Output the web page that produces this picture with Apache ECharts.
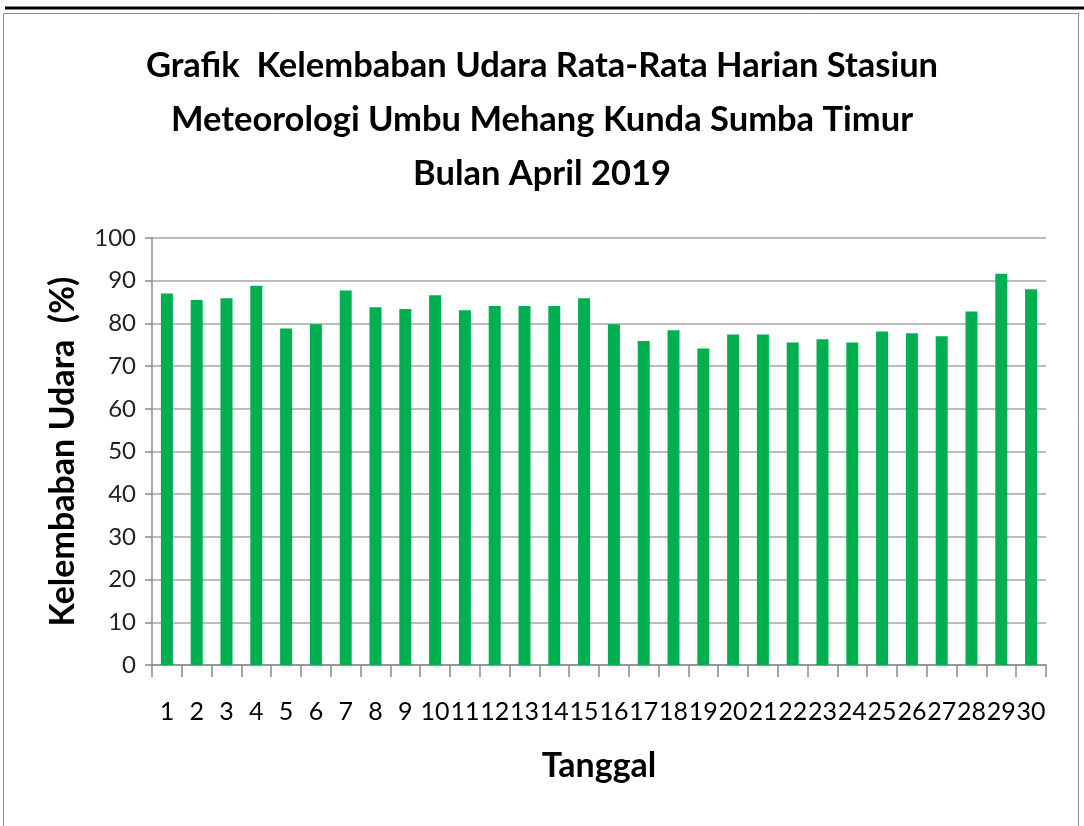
<!DOCTYPE html>
<html>
<head>
<meta charset="utf-8">
<script src="https://cdn.jsdelivr.net/npm/echarts@6/dist/echarts.min.js"></script>
<style>
  html, body { margin: 0; padding: 0; background: #fff; }
  #main { width: 1084px; height: 826px; }
</style>
</head>
<body>
<div id="main"></div>
<script>
// tanggal (hari ke-) bulan April 2019
const days = ['1', '2', '3', '4', '5', '6', '7', '8', '9', '10',
  '11', '12', '13', '14', '15', '16', '17', '18', '19', '20',
  '21', '22', '23', '24', '25', '26', '27', '28', '29', '30'];

// kelembaban udara rata-rata harian (%)
const humidity = [87.0, 85.5, 85.9, 88.8, 78.8, 79.8, 87.7, 83.8, 83.4, 86.6,
  83.1, 84.1, 84.1, 84.1, 85.9, 79.8, 75.9, 78.4, 74.1, 77.4,
  77.4, 75.5, 76.3, 75.5, 78.1, 77.7, 77.0, 82.8, 91.6, 88.0];

const yTicks = { min: 0, max: 100, interval: 10 };

const font = 'Lato';

const chart = echarts.init(document.getElementById('main'));

chart.setOption({
  animation: false,
  backgroundColor: '#fff',
  textStyle: { fontFamily: font },
  title: {
    text: 'Grafik  Kelembaban Udara Rata-Rata Harian Stasiun\nMeteorologi Umbu Mehang Kunda Sumba Timur\nBulan April 2019',
    left: 'center',
    top: 34,
    textStyle: {
      fontFamily: font,
      fontSize: 34.5,
      fontWeight: 'bold',
      color: '#000',
      lineHeight: 54
    }
  },
  // bingkai grafik
  graphic: [
    {
      type: 'line',
      shape: { x1: 5, y1: 8, x2: 1084, y2: 8 },
      style: { stroke: '#000', lineWidth: 3 }
    },
    {
      type: 'rect',
      shape: { x: 3.5, y: 13.5, width: 1075, height: 830 },
      style: { fill: 'none', stroke: '#8c8c8c', lineWidth: 1 }
    }
  ],
  grid: {
    left: 152,
    right: 38,
    top: 238,
    bottom: 161
  },
  xAxis: {
    type: 'category',
    data: days,
    name: 'Tanggal',
    nameLocation: 'middle',
    nameGap: 84,
    nameTextStyle: {
      fontFamily: font,
      fontSize: 34,
      fontWeight: 'bold',
      color: '#000'
    },
    axisLine: { lineStyle: { color: '#8c8c8c', width: 1.5 } },
    axisTick: {
      show: true,
      alignWithLabel: false,
      length: 12,
      lineStyle: { color: '#8c8c8c', width: 1.5 }
    },
    axisLabel: {
      interval: 0,
      margin: 34,
      fontFamily: font,
      fontSize: 25,
      color: '#000'
    }
  },
  yAxis: {
    type: 'value',
    min: yTicks.min,
    max: yTicks.max,
    interval: yTicks.interval,
    name: 'Kelembaban Udara  (%)',
    nameLocation: 'middle',
    nameGap: 72,
    nameTextStyle: {
      fontFamily: font,
      fontSize: 34,
      fontWeight: 'bold',
      color: '#000'
    },
    axisLine: { show: true, lineStyle: { color: '#8c8c8c', width: 1.5 } },
    axisTick: { show: true, length: 7, lineStyle: { color: '#8c8c8c', width: 1.5 } },
    axisLabel: {
      margin: 16,
      fontFamily: font,
      fontSize: 24,
      color: '#222'
    },
    splitLine: { show: true, lineStyle: { color: '#a6a6a6', width: 1.5 } }
  },
  series: [
    {
      type: 'bar',
      data: humidity,
      barWidth: 12,
      itemStyle: { color: '#00b050' }
    }
  ]
});
</script>
</body>
</html>
